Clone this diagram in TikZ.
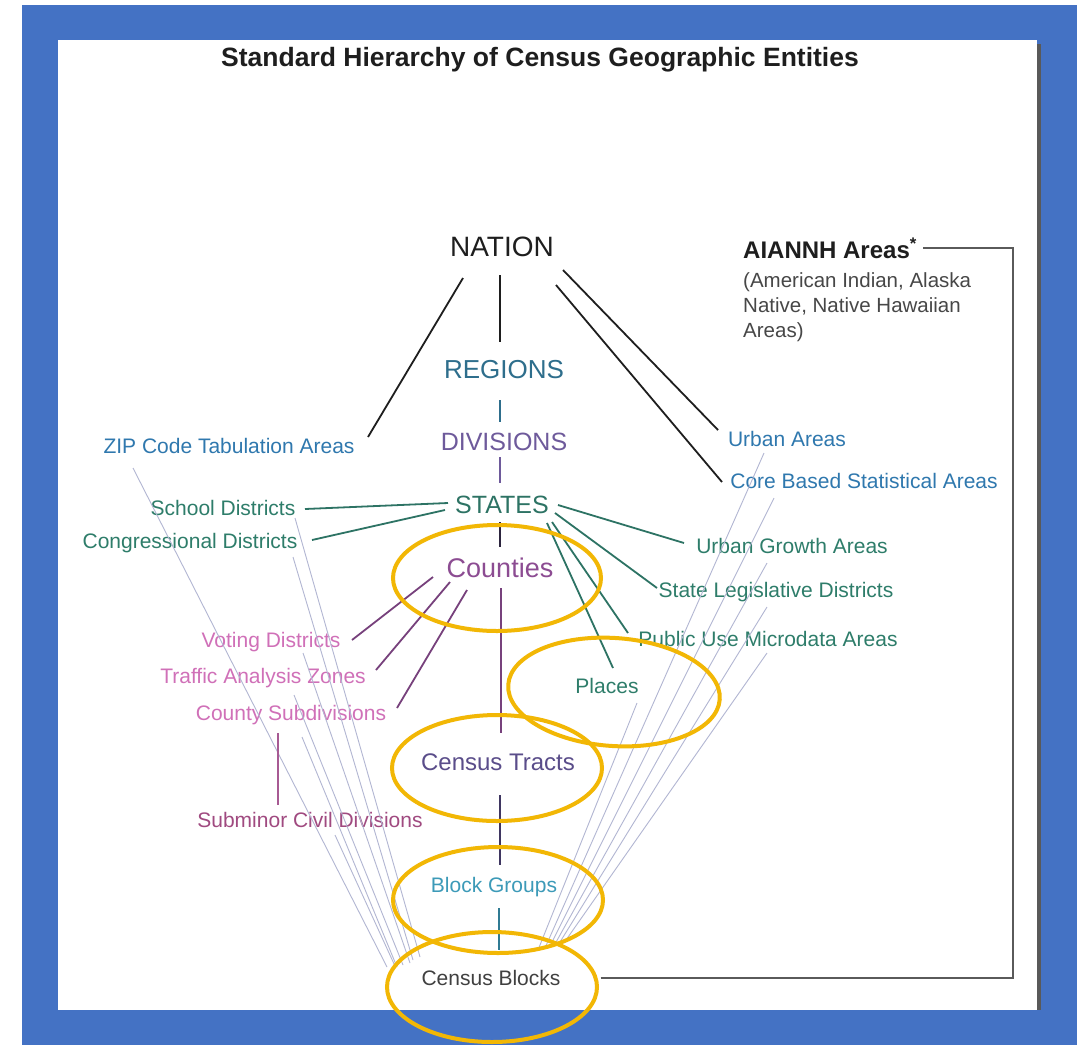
\documentclass[tikz,border=0pt]{standalone}
\usepackage{fontspec}
\setmainfont{Liberation Sans}
\usetikzlibrary{calc}
\definecolor{frameblue}{RGB}{68,114,196}
\definecolor{ringgold}{RGB}{242,183,5}
\definecolor{natblack}{RGB}{30,30,30}
\definecolor{regblue}{RGB}{46,110,140}
\definecolor{divpurple}{RGB}{110,90,155}
\definecolor{stgreen}{RGB}{45,115,100}
\definecolor{cntpurple}{RGB}{140,76,146}
\definecolor{trpurple}{RGB}{90,77,138}
\definecolor{bgteal}{RGB}{60,154,184}
\definecolor{areablue}{RGB}{47,120,174}
\definecolor{secgreen}{RGB}{46,125,106}
\definecolor{pinklab}{RGB}{208,112,184}
\definecolor{mauve}{RGB}{160,74,128}
\definecolor{fangray}{RGB}{178,182,210}
\definecolor{linkgray}{RGB}{90,90,90}
\tikzset{level/.style={inner sep=0pt}}
\tikzset{entity/.style={inner sep=0pt, font=\fontsize{21}{25}\selectfont}}
\tikzset{link/.style={line width=1.8pt}}
\tikzset{fan/.style={draw=fangray, line width=0.9pt}}
\tikzset{ring/.style={draw=ringgold, line width=4pt}}
\newcommand{\censusframe}{
    \useasboundingbox (0,0) rectangle (1089,1045);
    \fill[white] (0,0) rectangle (1089,1045);
    \fill[frameblue] (22,5) rectangle (1077,1045);
    \fill[white] (58,40) rectangle (1037,1010);
    \fill[black!65] (1037,44) rectangle (1041,1010);
}

\begin{document}
\begin{tikzpicture}[x=1pt,y=-1pt]
        \censusframe

        \node[level, natblack, font=\bfseries\fontsize{26.5}{30}\selectfont] (title) at (540,60)
            {Standard Hierarchy of Census Geographic Entities};

        % main chain
        \node[level, natblack, font=\fontsize{28}{32}\selectfont] (nation) at (502,247) {NATION};
        \node[level, regblue, font=\fontsize{26}{30}\selectfont] (regions) at (504,370) {REGIONS};
        \node[level, divpurple, font=\fontsize{25}{30}\selectfont] (divisions) at (504,442) {DIVISIONS};
        \node[level, stgreen, font=\fontsize{25}{30}\selectfont] (states) at (502,505) {STATES};
        \node[level, cntpurple, font=\fontsize{27}{30}\selectfont] (counties) at (500,568) {Counties};
        \node[entity, secgreen] (places) at (607,686) {Places};
        \node[level, trpurple, font=\fontsize{24}{28}\selectfont] (tracts) at (498,762) {Census Tracts};
        \node[entity, bgteal] (bgroups) at (494,887) {Block Groups};
        \node[entity, natblack!85] (blocks) at (491,978) {Census Blocks};

        % side entities
        \node[entity, areablue] (zcta) at (229,446) {ZIP Code Tabulation Areas};
        \node[entity, areablue] (urban) at (787,439) {Urban Areas};
        \node[entity, areablue] (cbsa) at (864,481) {Core Based Statistical Areas};
        \node[entity, secgreen] (school) at (223,508) {School Districts};
        \node[entity, secgreen] (congr) at (190,543) {Congressional Districts};
        \node[entity, secgreen] (uga) at (792,546) {Urban Growth Areas};
        \node[entity, secgreen] (sld) at (776,592) {State Legislative Districts};
        \node[entity, secgreen] (puma) at (768,639) {Public Use Microdata Areas};
        \node[entity, pinklab] (voting) at (271,642) {Voting Districts};
        \node[entity, pinklab] (taz) at (263,678) {Traffic Analysis Zones};
        \node[entity, pinklab] (csub) at (291,715) {County Subdivisions};
        \node[entity, mauve] (subminor) at (310,820) {Subminor Civil Divisions};

        \node[level, anchor=west, natblack, font=\bfseries\fontsize{24}{28}\selectfont] (aiannh) at (743,248)
            {AIANNH Areas\textsuperscript{*}};
        \node[level, anchor=north west, align=left, black!72, font=\fontsize{20.5}{25}\selectfont] (aiannhnote) at (743,272)
            {(American Indian, Alaska\\Native, Native Hawaiian\\Areas)};
        \coordinate (aiturn) at (1013,248);

        % fan down to the blocks
        \draw[fan] ([shift={(-96,22)}]zcta.center) -- ([shift={(-104,-11)}]blocks.center);
        \draw[fan] ([shift={(72,10)}]school.center) -- ([shift={(-71,-21)}]blocks.center);
        \draw[fan] ([shift={(103,14)}]congr.center) -- ([shift={(-78,-18)}]blocks.center);
        \draw[fan] ([shift={(32,11)}]voting.center) -- ([shift={(-81,-15)}]blocks.center);
        \draw[fan] ([shift={(31,17)}]taz.center) -- ([shift={(-88,-13)}]blocks.center);
        \draw[fan] ([shift={(11,22)}]csub.center) -- ([shift={(-94,-11)}]blocks.center);
        \draw[fan] ([shift={(25,15)}]subminor.center) -- ([shift={(-96,-12)}]blocks.center);
        \draw[fan] ([shift={(-23,14)}]urban.center) -- ([shift={(54,-30)}]blocks.center);
        \draw[fan] ([shift={(-90,17)}]cbsa.center) -- ([shift={(59,-32)}]blocks.center);
        \draw[fan] ([shift={(-25,17)}]uga.center) -- ([shift={(64,-34)}]blocks.center);
        \draw[fan] ([shift={(-9,15)}]sld.center) -- ([shift={(69,-36)}]blocks.center);
        \draw[fan] ([shift={(-1,14)}]puma.center) -- ([shift={(75,-38)}]blocks.center);
        \draw[fan] ([shift={(30,17)}]places.center) -- ([shift={(47,-28)}]blocks.center);

        % nation links
        \draw[link, natblack] ([shift={(-2,28)}]nation.center) -- ([shift={(-4,-28)}]regions.center);
        \draw[link, natblack] ([shift={(-39,31)}]nation.center) -- ([shift={(139,-9)}]zcta.center);
        \draw[link, natblack] ([shift={(61,23)}]nation.center) -- ([shift={(-69,-9)}]urban.center);
        \draw[link, natblack] ([shift={(54,38)}]nation.center) -- ([shift={(-142,1)}]cbsa.center);
        \draw[link, regblue] ([shift={(-4,30)}]regions.center) -- ([shift={(-4,-20)}]divisions.center);
        \draw[link, divpurple] ([shift={(-4,15)}]divisions.center) -- ([shift={(-2,-22)}]states.center);

        % state links
        \draw[link, stgreen] ([shift={(-54,-2)}]states.center) -- ([shift={(82,1)}]school.center);
        \draw[link, stgreen] ([shift={(-57,5)}]states.center) -- ([shift={(122,-3)}]congr.center);
        \draw[link, stgreen] ([shift={(56,0)}]states.center) -- ([shift={(-108,-3)}]uga.center);
        \draw[link, stgreen] ([shift={(53,8)}]states.center) -- ([shift={(-119,-4)}]sld.center);
        \draw[link, stgreen] ([shift={(50,17)}]states.center) -- ([shift={(-140,-6)}]puma.center);
        \draw[link, stgreen] ([shift={(45,18)}]states.center) -- ([shift={(6,-18)}]places.center);
        \draw[link, black!60!divpurple] ([shift={(-2,17)}]states.center) -- ([shift={(0,-21)}]counties.center);

        % county links
        \draw[link, cntpurple!85!black] ([shift={(-67,9)}]counties.center) -- ([shift={(81,-2)}]voting.center);
        \draw[link, cntpurple!85!black] ([shift={(-50,14)}]counties.center) -- ([shift={(113,-8)}]taz.center);
        \draw[link, cntpurple!85!black] ([shift={(-33,22)}]counties.center) -- ([shift={(106,-7)}]csub.center);
        \draw[link, cntpurple!85!black] ([shift={(1,20)}]counties.center) -- ([shift={(3,-29)}]tracts.center);
        \draw[link, pinklab!80!black] ([shift={(-13,18)}]csub.center) -- ([shift={(-32,-15)}]subminor.center);
        \draw[link, trpurple!70!black] ([shift={(2,33)}]tracts.center) -- ([shift={(6,-22)}]bgroups.center);
        \draw[link, bgteal!80!black] ([shift={(5,21)}]bgroups.center) -- ([shift={(8,-28)}]blocks.center);

        % AIANNH link
        \draw[link, linkgray] ([xshift=40pt]blocks.east) -| (aiturn) -- ([xshift=6pt]aiannh.east);

        % highlight rings
        \draw[ring] (497,578) ellipse [x radius=104pt, y radius=53pt];
        \draw[ring, rotate around={-4:(614,692)}] (614,692) ellipse [x radius=106pt, y radius=54pt];
        \draw[ring] (497,768) ellipse [x radius=105pt, y radius=53pt];
        \draw[ring] (498,900) ellipse [x radius=105pt, y radius=53pt];
        \draw[ring] (492,987) ellipse [x radius=105pt, y radius=55pt];
\end{tikzpicture}
\end{document}
